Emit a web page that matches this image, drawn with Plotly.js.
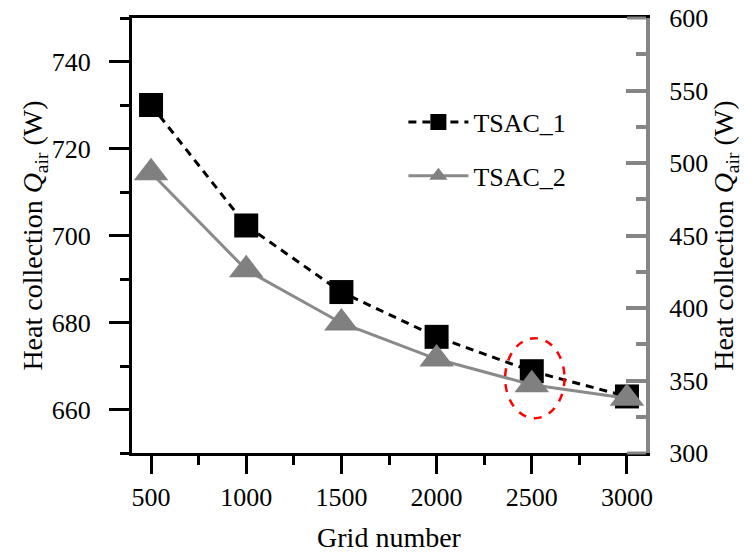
<!DOCTYPE html>
<html>
<head>
<meta charset="utf-8">
<script src="https://cdn.plot.ly/plotly-3.0.1.min.js"></script>
<style>html,body{margin:0;padding:0;background:#fff;}#chart{width:755px;height:559px;}</style>
</head>
<body>
<div id="chart"></div>
<script>
const gridNumbers = [500, 1000, 1500, 2000, 2500, 3000];
const tsac1 = [730.0, 702.3, 687.0, 676.7, 668.8, 663.0];
const tsac2 = [493.3, 426.3, 389.7, 364.8, 347.1, 337.7];
const seriesNames = ["TSAC_1", "TSAC_2"];
const highlightX = [2360, 2672];
const highlightY = [658.0, 676.4];

const FONT = "'Liberation Serif', 'Times New Roman', serif";
const GRAY = "#858585";

const traces = [
  {
    x: gridNumbers, y: tsac1, name: seriesNames[0], type: "scatter", mode: "lines+markers",
    line: {color: "#000", width: 3, dash: "8px,6px"},
    marker: {symbol: "square", size: 24, color: "#000"},
    legendgroup: "a", yaxis: "y"
  },
  {
    x: gridNumbers, y: tsac2, name: seriesNames[1], type: "scatter", mode: "lines+markers",
    line: {color: "#8a8a8a", width: 3},
    marker: {symbol: "triangle-up", size: 30, color: "#808080"},
    legendgroup: "b", yaxis: "y2"
  }
];

const layout = {
  width: 755, height: 559,
  margin: {l: 132, r: 109, t: 18, b: 106},
  paper_bgcolor: "#fff", plot_bgcolor: "#fff",
  font: {family: FONT, size: 26, color: "#000"},
  showlegend: true,
  legend: {
    x: 0.528, y: 0.815, xanchor: "left", yanchor: "top",
    font: {family: FONT, size: 26, color: "#000"},
    bgcolor: "rgba(0,0,0,0)", itemwidth: 60, tracegroupgap: 17
  },
  xaxis: {
    range: [400, 3100], tick0: 500, dtick: 500,
    showgrid: false, zeroline: false,
    showline: true, linecolor: "#000", linewidth: 3, mirror: true,
    ticks: "outside", ticklen: 18, tickwidth: 3, tickcolor: "#000",
    minor: {dtick: 250, ticks: "outside", ticklen: 9, tickwidth: 3, tickcolor: "#000", showgrid: false},
    ticklabelstandoff: 1,
    tickfont: {family: FONT, size: 26, color: "#000"},
    title: {text: "Grid number", font: {family: FONT, size: 28, color: "#000"}, standoff: 17}
  },
  yaxis: {
    range: [650, 750], tick0: 660, dtick: 20,
    showgrid: false, zeroline: false,
    showline: true, linecolor: "#000", linewidth: 3,
    ticks: "outside", ticklen: 20, tickwidth: 3, tickcolor: "#000",
    minor: {dtick: 10, ticks: "outside", ticklen: 9, tickwidth: 3, tickcolor: "#000", showgrid: false},
    ticklabelstandoff: 13,
    tickfont: {family: FONT, size: 26, color: "#000"},
    title: {text: "Heat collection <i>Q</i><sub>air</sub> (W)", font: {family: FONT, size: 28, color: "#000"}, standoff: 0}
  },
  yaxis2: {
    overlaying: "y", side: "right",
    range: [300, 600], tick0: 300, dtick: 50,
    showgrid: false, zeroline: false,
    showline: true, linecolor: GRAY, linewidth: 4,
    ticks: "inside", ticklen: 20, tickwidth: 4, tickcolor: GRAY,
    minor: {dtick: 25, ticks: "inside", ticklen: 10, tickwidth: 4, tickcolor: GRAY, showgrid: false},
    ticklabelstandoff: 14,
    tickfont: {family: FONT, size: 26, color: "#000"},
    title: {text: "Heat collection <i>Q</i><sub>air</sub> (W)", font: {family: FONT, size: 28, color: "#000"}, standoff: 4}
  },
  shapes: [
    {type: "circle", xref: "x", yref: "y", x0: highlightX[0], x1: highlightX[1], y0: highlightY[0], y1: highlightY[1],
     line: {color: "#ff0000", width: 2.5, dash: "8px,8px"}, fillcolor: "rgba(0,0,0,0)", layer: "above"},
    {type: "line", xref: "x", yref: "paper", x0: 3000, x1: 3100, y0: 0, y1: 0, line: {color: GRAY, width: 3}, layer: "above"},
    {type: "line", xref: "x", yref: "paper", x0: 3000, x1: 3100, y0: 1, y1: 1, line: {color: GRAY, width: 3}, layer: "above"}
  ]
};

Plotly.newPlot("chart", traces, layout, {displayModeBar: false, staticPlot: true});
</script>
</body>
</html>
